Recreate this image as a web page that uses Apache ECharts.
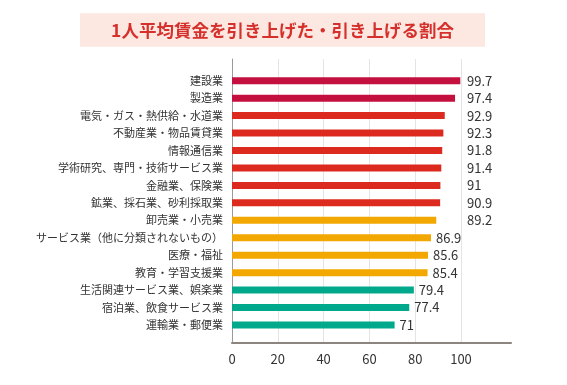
<!DOCTYPE html>
<html>
<head>
<meta charset="utf-8">
<script src="https://cdn.jsdelivr.net/npm/echarts@6/dist/echarts.min.js"></script>
<style>html,body{margin:0;padding:0;background:#fff}#c{width:567px;height:385px}</style>
</head>
<body>
<div id="c"></div>
<script>
const categories = ['建設業','製造業','電気・ガス・熱供給・水道業','不動産業・物品賃貸業','情報通信業','学術研究、専門・技術サービス業','金融業、保険業','鉱業、採石業、砂利採取業','卸売業・小売業','サービス業（他に分類されないもの）','医療・福祉','教育・学習支援業','生活関連サービス業、娯楽業','宿泊業、飲食サービス業','運輸業・郵便業'];
const values = [99.7,97.4,92.9,92.3,91.8,91.4,91,90.9,89.2,86.9,85.6,85.4,79.4,77.4,71];
const groups = [0,0,1,1,1,1,1,1,2,2,2,2,3,3,3];
const groupColors = ['#c4103f','#dc2b1e','#f2a800','#00a98c'];
const alignedLabelCount = 9;
const xTicks = [0,20,40,60,80,100];
const titleText = '1人平均賃金を引き上げた・引き上げる割合';

const FONT = '"Noto Sans CJK JP", "Noto Sans", sans-serif';
const catsRev = categories.slice().reverse();
const valsRev = values.slice().reverse();
const groupsRev = groups.slice().reverse();
const n = categories.length;

const chart = echarts.init(document.getElementById('c'));
chart.setOption({
  animation: false,
  textStyle: {fontFamily: FONT},
  title: {
    text: '{t|' + titleText + '}',
    left: 80, top: 13,
    padding: [8, 0, 8, 0],
    backgroundColor: '#fde7e1',
    textStyle: {
      rich: {t: {color: '#d5302b', fontSize: 17.5, fontWeight: 'bold', fontFamily: FONT,
        lineHeight: 18, width: 405, align: 'center'}}
    }
  },
  grid: [
    {left: 232, right: 106, top: 72, bottom: 51.3},
    {left: 232, right: 106, top: 59, bottom: 42},
    {left: 232, right: 56, top: 59, bottom: 42}
  ],
  xAxis: [
    {gridIndex: 0, type: 'value', min: 0, max: 100, show: false},
    {gridIndex: 1, type: 'value', min: 0, max: 100, interval: 20,
      axisLine: {show: false}, axisTick: {show: false},
      splitLine: {show: true, showMinLine: false, lineStyle: {color: '#e4e4e4', width: 1}},
      axisLabel: {color: '#333', fontSize: 13, margin: 10, fontFamily: FONT,
        formatter: v => xTicks.indexOf(v) >= 0 ? String(v) : ''}},
    {gridIndex: 2, type: 'value', min: 0, max: 122,
      axisLine: {show: true, onZero: false, lineStyle: {color: '#8c847e', width: 2}},
      axisTick: {show: false}, axisLabel: {show: false}, splitLine: {show: false}}
  ],
  yAxis: [
    {gridIndex: 0, type: 'category', data: catsRev,
      axisLine: {show: false}, axisTick: {show: false},
      axisLabel: {color: '#333', fontSize: 11, margin: 9, fontFamily: FONT}},
    {gridIndex: 1, type: 'category', data: [''],
      axisLine: {show: true, lineStyle: {color: '#9a9a9a', width: 1}},
      axisTick: {show: false}, axisLabel: {show: false}},
    {gridIndex: 2, type: 'category', data: [''], show: false}
  ],
  series: [
    {
      type: 'bar', xAxisIndex: 0, yAxisIndex: 0, barWidth: 7,
      data: valsRev.map((v, i) => ({
        value: v,
        itemStyle: {color: groupColors[groupsRev[i]]},
        label: {show: (n - 1 - i) >= alignedLabelCount}
      })),
      label: {position: 'right', distance: 5, color: '#333', fontSize: 13, fontFamily: FONT}
    },
    {
      type: 'bar', xAxisIndex: 0, yAxisIndex: 0, barWidth: 7, barGap: '-100%',
      silent: true, z: 1,
      itemStyle: {color: 'rgba(0,0,0,0)'},
      data: valsRev.map((v, i) => (n - 1 - i) < alignedLabelCount ? 100 : null),
      label: {show: true, position: 'right', distance: 6, color: '#333', fontSize: 13, fontFamily: FONT,
        formatter: p => String(valsRev[p.dataIndex])}
    }
  ]
});
</script>
</body>
</html>
